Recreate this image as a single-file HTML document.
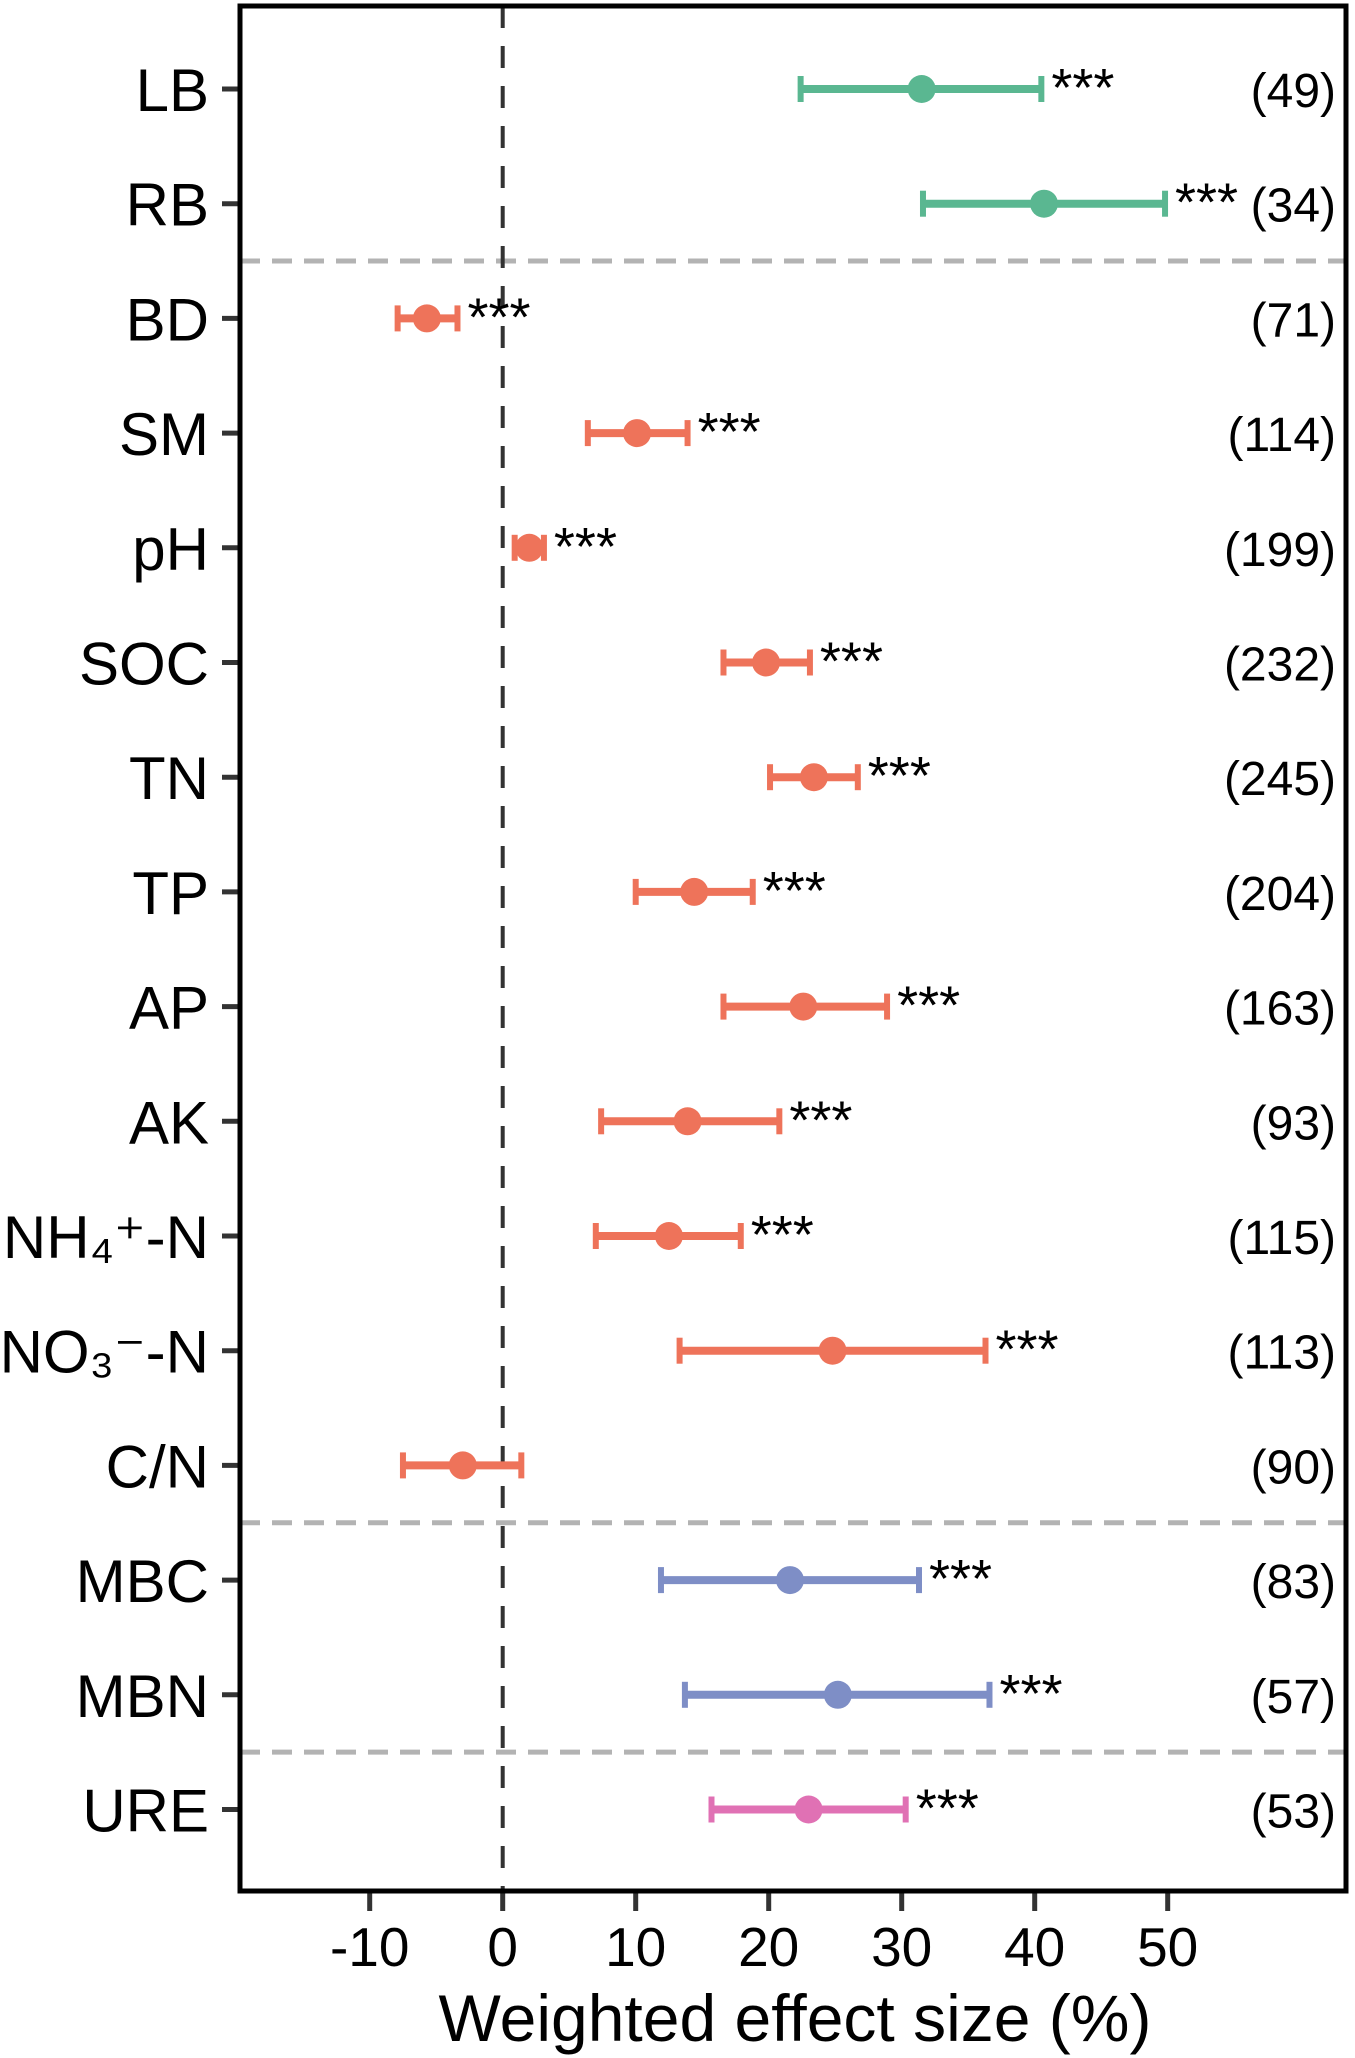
<!DOCTYPE html>
<html><head><meta charset="utf-8">
<style>
html,body{margin:0;padding:0;background:#fff;}
svg{display:block;font-family:"Liberation Sans",Arial,sans-serif;}
</style></head>
<body>
<svg id="chart" width="1355" height="2058" viewBox="0 0 1355 2058" xmlns="http://www.w3.org/2000/svg">
<g id="grid"></g>
<g id="marks"></g>
<g id="axes"></g>
</svg>
<script>
const categories = ["LB","RB","BD","SM","pH","SOC","TN","TP","AP","AK","NH₄⁺-N","NO₃⁻-N","C/N","MBC","MBN","URE"];
const means = [31.5,40.7,-5.7,10.1,2.0,19.8,23.4,14.4,22.6,13.9,12.5,24.8,-3.0,21.6,25.2,23.0];
const lowers = [22.4,31.6,-7.9,6.4,0.9,16.6,20.1,10.0,16.6,7.4,7.0,13.3,-7.5,11.9,13.7,15.7];
const uppers = [40.5,49.8,-3.4,13.9,3.1,23.1,26.7,18.8,28.9,20.8,17.9,36.3,1.4,31.3,36.6,30.3];
const counts = ["(49)","(34)","(71)","(114)","(199)","(232)","(245)","(204)","(163)","(93)","(115)","(113)","(90)","(83)","(57)","(53)"];
const signif = ["***","***","***","***","***","***","***","***","***","***","***","***","","***","***","***"];
const groups = ["root","root","soil","soil","soil","soil","soil","soil","soil","soil","soil","soil","soil","microbe","microbe","enzyme"];
const xTicks = [-10,0,10,20,30,40,50];
const xTickLabels = ["-10","0","10","20","30","40","50"];

const colors = {root:"#5ab791", soil:"#ee735a", microbe:"#7e8ec6", enzyme:"#e071b4"};
const NS = "http://www.w3.org/2000/svg";
const L = 240, R = 1346, T = 6, B = 1891;
function xs(v){ return 502.7 + v * 13.3; }
function ys(i){ return 89 + i * 114.7; }
function mk(tag, attrs, parent, text){
  const e = document.createElementNS(NS, tag);
  for (const k in attrs) e.setAttribute(k, attrs[k]);
  if (text !== undefined) e.textContent = text;
  parent.appendChild(e); return e;
}
const grid = document.getElementById('grid');
const marks = document.getElementById('marks');
const axes = document.getElementById('axes');

for (let i = 1; i < categories.length; i++) {
  if (groups[i] !== groups[i-1]) {
    const y = (ys(i) + ys(i-1)) / 2;
    const s = mk('line', {x1:L, x2:R, y1:y, y2:y, stroke:'#b3b3b3', 'stroke-width':5, 'stroke-dasharray':'20 12'}, grid);
    
    
  }
}
const zl = mk('line', {x1:xs(0), x2:xs(0), y1:T, y2:B, stroke:'#333', 'stroke-width':4, 'stroke-dasharray':'22 18'}, grid);



categories.forEach((c, i) => {
  const y = ys(i), col = colors[groups[i]];
  const g = mk('g', {}, marks);
  
  
  const x1 = xs(lowers[i]), x2 = xs(uppers[i]);
  mk('line', {x1:x1, x2:x2, y1:y, y2:y, stroke:col, 'stroke-width':8}, g);
  mk('line', {x1:x1, x2:x1, y1:y-13, y2:y+13, stroke:col, 'stroke-width':6}, g);
  mk('line', {x1:x2, x2:x2, y1:y-13, y2:y+13, stroke:col, 'stroke-width':6}, g);
  const d = mk('circle', {cx:xs(means[i]), cy:y, r:14, fill:col}, g);
  
  
  if (signif[i]) {
    const st = mk('text', {x:x2 + 10, y:y + 17, 'font-size':54, fill:'#000'}, marks, signif[i]);
    
    
  }
  const ct = mk('text', {x:1336, y:y + 18, 'font-size':48, 'text-anchor':'end', fill:'#000'}, marks, counts[i]);
  
  
  mk('line', {x1:222, x2:L, y1:y, y2:y, stroke:'#333', 'stroke-width':5}, axes);
  const lb = mk('text', {x:209, y:y + 22, 'font-size':60, 'text-anchor':'end', fill:'#000'}, axes, c);
  
  
});

xTicks.forEach((v, i) => {
  mk('line', {x1:xs(v), x2:xs(v), y1:B, y2:1911, stroke:'#333', 'stroke-width':5}, axes);
  const t = mk('text', {x:xs(v), y:1966, 'font-size':55, 'text-anchor':'middle', fill:'#000'}, axes, xTickLabels[i]);
  
  
});

const frame = mk('rect', {x:L, y:T, width:R-L, height:B-T, fill:'none', stroke:'#000', 'stroke-width':5}, axes);



const title = mk('text', {x:795, y:2041, 'font-size':66, 'text-anchor':'middle', fill:'#000'}, axes, 'Weighted effect size (%)');


</script>
</body></html>
